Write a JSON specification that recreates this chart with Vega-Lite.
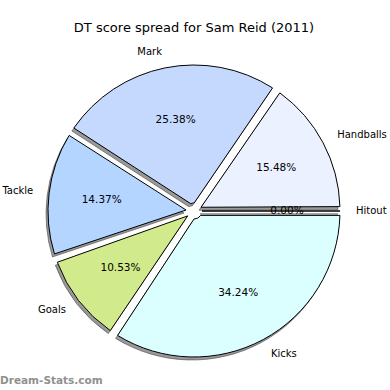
{
  "$schema": "https://vega.github.io/schema/vega-lite/v6.json",
  "autosize": "none",
  "width": 388,
  "height": 342,
  "padding": {"top": 40, "left": 0, "right": 2, "bottom": 8},
  "background": "white",
  "title": {"text": "DT score spread for Sam Reid (2011)", "font": "DejaVu Sans", "fontSize": 13, "fontWeight": "normal", "color": "#000000", "offset": 5, "anchor": "middle"},
  "config": {"view": {"stroke": null}},
  "layer": [
    {
      "data": {"name": "pie", "values": [
        {"label": "Hitout", "share": 0.0, "order": 1},
        {"label": "Kicks", "share": 0.3424, "order": 2},
        {"label": "Goals", "share": 0.1053, "order": 3},
        {"label": "Tackle", "share": 0.1437, "order": 4},
        {"label": "Mark", "share": 0.2538, "order": 5},
        {"label": "Handballs", "share": 0.1548, "order": 6}
      ]},
      "encoding": {
        "theta": {"field": "share", "type": "quantitative", "stack": true, "scale": {"range": [1.5707963, 7.8539816]}},
        "order": {"field": "order", "type": "quantitative"}
      },
      "layer": [
        {
          "mark": {"type": "arc", "innerRadius": 8, "outerRadius": 146, "padAngle": 0.06, "xOffset": -2, "yOffset": 3, "fill": "#333333", "fillOpacity": 0.5, "stroke": "#333333", "strokeOpacity": 0.5, "strokeWidth": 1}
        },
        {
          "mark": {"type": "arc", "innerRadius": 8, "outerRadius": 146, "padAngle": 0.06, "stroke": "#000000", "strokeWidth": 1},
          "encoding": {
            "color": {"field": "label", "type": "nominal", "legend": null,
              "scale": {"domain": ["Handballs", "Mark", "Tackle", "Goals", "Kicks", "Hitout"],
                        "range": ["#ebf1ff", "#c5d9ff", "#b4d5ff", "#d1ea8b", "#dbffff", "#e0e0e0"]}}
          }
        },
        {
          "mark": {"type": "text", "radius": 93, "font": "DejaVu Sans", "fontSize": 10.5, "color": "#000000", "align": "center", "baseline": "middle"},
          "encoding": {"text": {"field": "share", "type": "quantitative", "format": ".2%"}}
        },
        {
          "mark": {"type": "text", "radius": 162, "font": "DejaVu Sans", "fontSize": 10, "color": "#000000", "align": "right", "baseline": "middle"},
          "encoding": {"text": {"condition": {"test": "indexof(['Mark','Tackle','Goals'], datum.label) >= 0", "field": "label"}, "value": ""}}
        },
        {
          "mark": {"type": "text", "radius": 162, "font": "DejaVu Sans", "fontSize": 10, "color": "#000000", "align": "left", "baseline": "middle"},
          "encoding": {"text": {"condition": {"test": "indexof(['Handballs','Hitout','Kicks'], datum.label) >= 0", "field": "label"}, "value": ""}}
        }
      ]
    },
    {
      "data": {"values": [{"t": "Dream-Stats.com"}]},
      "mark": {"type": "text", "font": "DejaVu Sans", "fontSize": 10.5, "fontWeight": "bold", "color": "#909090", "align": "left", "baseline": "alphabetic", "dy": 2},
      "encoding": {
        "text": {"field": "t", "type": "nominal"},
        "x": {"value": 0},
        "y": {"value": "height"}
      }
    }
  ]
}
